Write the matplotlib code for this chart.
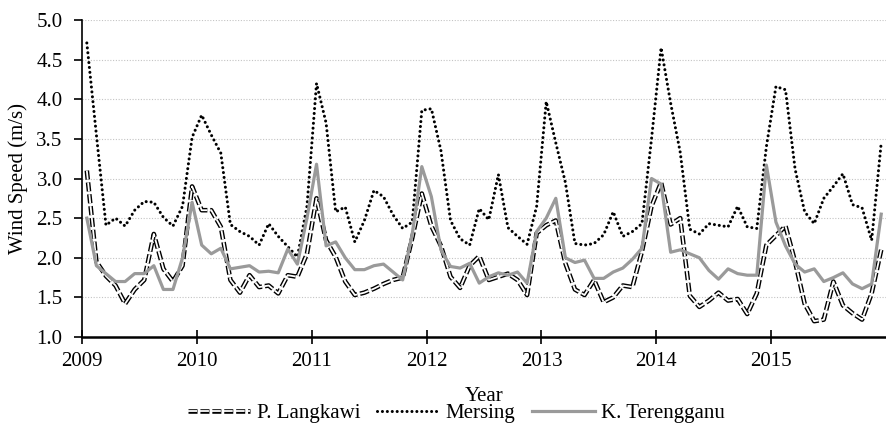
import matplotlib
matplotlib.use('Agg')

import numpy as np
import matplotlib.pyplot as plt
import matplotlib.patheffects as pe

# monthly mean wind speed (m/s), jan 2009 - dec 2015
years = ['2009', '2010', '2011', '2012', '2013', '2014', '2015']

langkawi = [3.10, 1.95, 1.77, 1.65, 1.42, 1.60, 1.72, 2.30, 1.86, 1.70, 1.90, 2.90,
            2.60, 2.60, 2.39, 1.72, 1.56, 1.78, 1.63, 1.65, 1.55, 1.78, 1.76, 2.05,
            2.75, 2.22, 2.01, 1.70, 1.53, 1.56, 1.61, 1.67, 1.72, 1.75, 2.25, 2.81,
            2.40, 2.15, 1.76, 1.62, 1.90, 2.02, 1.72, 1.76, 1.80, 1.72, 1.53, 2.31,
            2.41, 2.47, 1.93, 1.60, 1.53, 1.72, 1.44, 1.50, 1.65, 1.63, 2.08, 2.65,
            2.95, 2.42, 2.50, 1.52, 1.38, 1.46, 1.56, 1.46, 1.48, 1.29, 1.55, 2.16,
            2.28, 2.40, 1.95, 1.42, 1.20, 1.22, 1.70, 1.40, 1.30, 1.22, 1.55, 2.10]

mersing = [4.71, 3.55, 2.41, 2.50, 2.40, 2.60, 2.71, 2.70, 2.51, 2.40, 2.65, 3.52,
           3.80, 3.55, 3.32, 2.42, 2.33, 2.27, 2.16, 2.43, 2.27, 2.14, 2.01, 2.65,
           4.20, 3.70, 2.58, 2.64, 2.20, 2.47, 2.85, 2.77, 2.54, 2.37, 2.45, 3.86,
           3.88, 3.35, 2.47, 2.24, 2.16, 2.62, 2.48, 3.05, 2.38, 2.27, 2.17, 2.65,
           3.97, 3.45, 2.95, 2.18, 2.16, 2.18, 2.29, 2.58, 2.27, 2.33, 2.43, 3.50,
           4.65, 3.95, 3.33, 2.36, 2.30, 2.43, 2.41, 2.39, 2.65, 2.39, 2.37, 3.40,
           4.16, 4.12, 3.12, 2.58, 2.43, 2.75, 2.90, 3.06, 2.67, 2.63, 2.22, 3.45]

terengganu = [2.50, 1.90, 1.80, 1.70, 1.70, 1.80, 1.80, 1.90, 1.60, 1.60, 2.00, 2.70,
              2.16, 2.05, 2.12, 1.86, 1.88, 1.90, 1.82, 1.83, 1.81, 2.11, 1.92, 2.50,
              3.18, 2.15, 2.20, 2.00, 1.85, 1.85, 1.90, 1.92, 1.82, 1.72, 2.30, 3.15,
              2.77, 2.10, 1.89, 1.87, 1.93, 1.68, 1.76, 1.81, 1.78, 1.82, 1.68, 2.33,
              2.50, 2.75, 2.00, 1.94, 1.97, 1.74, 1.74, 1.82, 1.87, 1.98, 2.12, 3.00,
              2.93, 2.07, 2.10, 2.05, 2.00, 1.84, 1.73, 1.86, 1.80, 1.78, 1.78, 3.17,
              2.45, 2.15, 1.92, 1.82, 1.86, 1.70, 1.75, 1.81, 1.67, 1.61, 1.67, 2.55]

# months since jan 2009, point in the middle of each month
months = np.arange(len(mersing)) + 0.5

plt.rcParams['font.family'] = ['Liberation Serif', 'DejaVu Serif']
plt.rcParams['font.size'] = 15

fig = plt.figure(figsize=(8.86, 4.25), dpi=100)
ax = fig.add_axes([0.0926, 0.207, 0.9074, 0.746])

# double dashed line: white dashes with black outline
ax.plot(months, langkawi, color='white', linewidth=1.3, linestyle=(0, (5, 1.6)),
        label='P. Langkawi',
        path_effects=[pe.Stroke(linewidth=3.3, foreground='black'), pe.Normal()])
# round dots
ax.plot(months, mersing, color='black', linewidth=2.2, linestyle=(0, (0.01, 1.6)),
        dash_capstyle='round', label='Mersing')
ax.plot(months, terengganu, color='#9a9a9a', linewidth=2.3, label='K. Terengganu')

ax.set_xlim(0, 84)
ax.set_ylim(1.0, 5.0)
ax.set_xticks(np.arange(len(years)) * 12)
ax.set_xticklabels(years)
ax.set_yticks(np.arange(1.0, 5.01, 0.5))
ax.set_yticklabels(['%.1f' % v for v in np.arange(1.0, 5.01, 0.5)])

ax.yaxis.grid(True, linestyle=(0, (1, 1.5)), color='#c4c4c4', linewidth=0.8)
ax.set_axisbelow(True)

ax.spines['top'].set_visible(False)
ax.spines['right'].set_visible(False)
ax.spines['bottom'].set_linewidth(1.8)
ax.spines['left'].set_linewidth(1.2)
ax.tick_params(axis='x', direction='inout', length=10, width=1.2, pad=6)
ax.tick_params(axis='y', direction='out', length=6, width=1.2, pad=8)

ax.set_ylabel('Wind Speed (m/s)', labelpad=6)
ax.set_xlabel('Year', labelpad=11)

fig.legend(loc='center', bbox_to_anchor=(0.515, 0.028), ncol=3, frameon=False,
           handlelength=3.0, handletextpad=0.3, columnspacing=0.8, borderaxespad=0)

fig.savefig('out.png', dpi=100)
